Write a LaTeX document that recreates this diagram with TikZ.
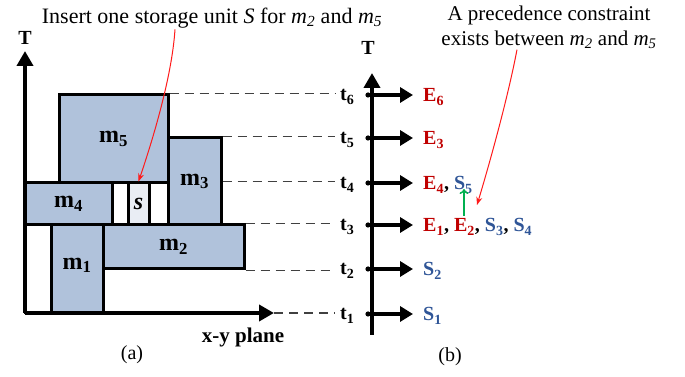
\documentclass[tikz,border=0pt]{standalone}
\usepackage{fontspec}
\setmainfont{Liberation Serif}
\usepackage{xcolor}
\usepackage{tikz}
\usetikzlibrary{arrows.meta,positioning}
\definecolor{mfill}{HTML}{B0C2DB}
\definecolor{sfill}{HTML}{E9EDF4}
\definecolor{evt}{HTML}{C00000}
\definecolor{sto}{HTML}{2F5597}
\definecolor{note}{HTML}{FF1A1A}
\definecolor{prec}{HTML}{00B050}
\tikzset{
  mach/.style={draw=black,fill=#1,line width=3pt,inner sep=0pt,
               font=\fontsize{24}{28}\selectfont\bfseries},
  mach/.default=mfill,
  axis/.style={line width=4pt,-{Triangle[length=15pt,width=16pt]}},
  tk/.style={line width=4pt,-{Triangle[length=13pt,width=15pt]}},
  guide/.style={draw=black!75,line width=1.5pt,dash pattern=on 9pt off 6pt,shorten >=4pt},
  tlbl/.style={font=\fontsize{20}{24}\selectfont\bfseries,inner sep=1pt},
  rlbl/.style={font=\fontsize{20}{24}\selectfont\bfseries,inner sep=0pt,anchor=west},
  captxt/.style={font=\fontsize{21}{25}\selectfont,align=center,inner sep=1pt},
  point/.style={-{Stealth[length=8pt,width=6pt]},draw=note,line width=1pt},
}
\newcommand{\Ev}[1]{\textcolor{evt}{E\textsubscript{#1}}}
\newcommand{\St}[1]{\textcolor{sto}{S\textsubscript{#1}}}
\begin{document}
\begin{tikzpicture}[x=1pt,y=1pt]
  \useasboundingbox (0,0) rectangle (685,377);
  \node[mach,minimum width=109,minimum height=88] (m5) at (113.5,238) {m\textsubscript{5}};
  \node[mach,minimum width=53,minimum height=87] (m3) at (194.5,195.5) {m\textsubscript{3}};
  \node[mach,minimum width=87,minimum height=42] (m4) at (68.5,173) {m\textsubscript{4}};
  \node[mach=white,minimum width=16,minimum height=42] (ga) at (120,173) {};
  \node[mach=sfill,minimum width=21,minimum height=42] (s) at (138.5,173) {\textit{s}};
  \node[mach=white,minimum width=19,minimum height=42] (gb) at (158.5,173) {};
  \node[mach=white,minimum width=26,minimum height=88] (gc) at (38,108) {};
  \node[mach,minimum width=52,minimum height=88,text height=4pt] (m1) at (77,108) {m\textsubscript{1}};
  \node[mach,minimum width=141,minimum height=44] (m2) at (173.5,130) {m\textsubscript{2}};

  \coordinate (o) at (25,64);
  \coordinate (ytop) at (25,326);
  \coordinate (xend) at (274,64);
  \draw[axis] (o) -- (ytop);
  \draw[axis] (o) -- (xend);
  \node[tlbl] (Ta) at (25,339) {T};
  \node[font=\fontsize{21}{25}\selectfont\bfseries] (xy) at (243,40) {x-y plane};
  \node[font=\fontsize{20}{24}\selectfont] (pa) at (132,22) {(a)};

  \foreach \n/\y in {1/63,2/108,3/152,4/194,5/239,6/282}{
    \node[tlbl,anchor=base west] (t\n) at (339,\y-6) {t\textsubscript{\n}};
  }
  \draw[guide] (m5.north east) -- (m5.north east -| t6.west);
  \draw[guide] (m3.north east) -- (m3.north east -| t5.west);
  \draw[guide] (m3.east |- m4.north) -- (m4.north -| t4.west);
  \draw[guide] (m2.north east) -- (m2.north east -| t3.west);
  \draw[guide] (m2.south east) -- (m2.south east -| t2.west);
  \draw[guide] (xend) -- (xend -| t1.west);

  \coordinate (ob) at (372,42);
  \coordinate (ybtop) at (372,304);
  \draw[axis] (ob) -- (ybtop);
  \node[tlbl] (Tb) at (368,329) {T};
  \foreach \n/\y/\txt in {1/63/{\St{1}},2/108/{\St{2}},3/152/{\Ev{1}, \Ev{2}, \St{3}, \St{4}},
                          4/194/{\Ev{4}, \St{5}},5/239/{\Ev{3}},6/282/{\Ev{6}}}{
    \coordinate (a\n) at (368,\y);
    \node[rlbl,anchor=base west] (r\n) at (423,\y-7) {\txt};
    \fill (a\n) circle (2.6pt);
    \draw[tk,shorten >=10pt] (a\n) -- (a\n -| r\n.west);
  }
  \node[font=\fontsize{20}{24}\selectfont] (pb) at (450,20) {(b)};

  \node[captxt,font=\fontsize{22}{26}\selectfont] (capa) at (212,359) {Insert one storage unit \textit{S} for \textit{m}\textsubscript{\textit{2}} and \textit{m}\textsubscript{\textit{5}}};
  \draw[point] ([xshift=-37pt]capa.south) .. controls (172,300) and (152,235) .. (s.north);
  \node[captxt] (capb) at (549,350) {A precedence constraint\\exists between \textit{m}\textsubscript{\textit{2}} and \textit{m}\textsubscript{\textit{5}}};
  \coordinate (s5pt) at (477,172);
  \draw[point] ([xshift=-32pt]capb.south) .. controls (508,280) and (490,215) .. (s5pt);

  \coordinate (gbot) at (464,161);
  \coordinate (gtop) at (464,188);
  \draw[draw=prec,line width=1.5pt,-{To[length=5pt,width=9pt]}] (gbot) -- (gtop);
\end{tikzpicture}
\end{document}
